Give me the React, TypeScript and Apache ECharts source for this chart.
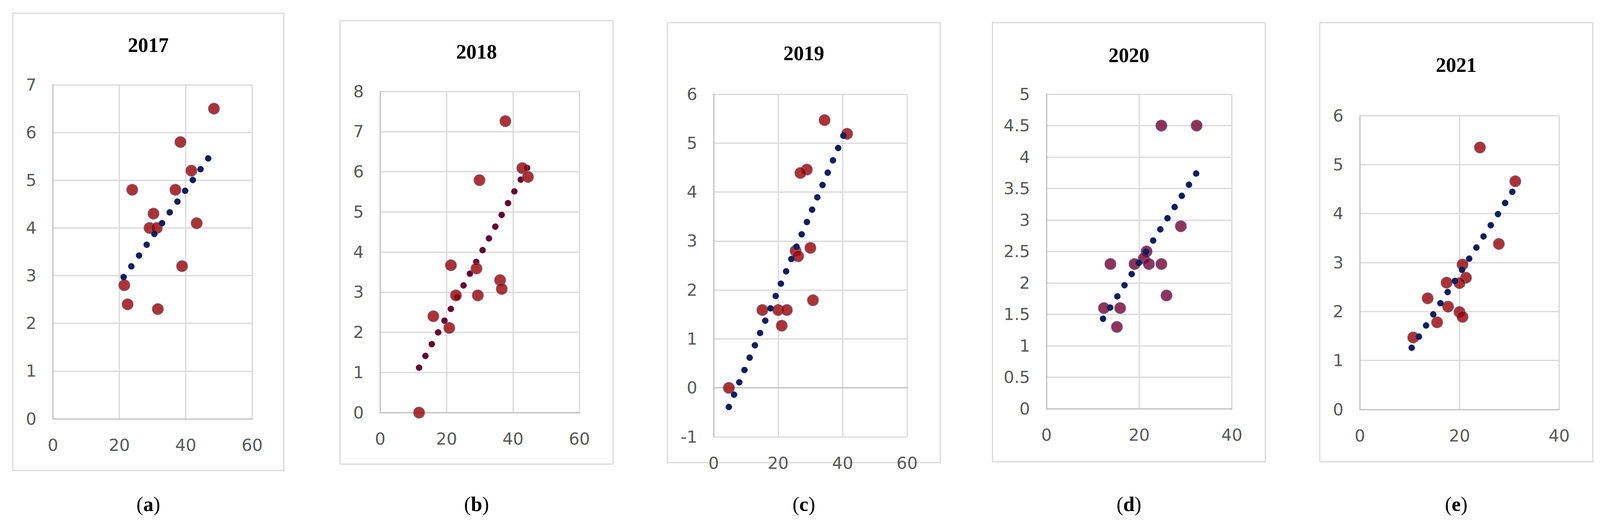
import React, { useEffect, useRef } from "react";
import * as echarts from "echarts";

// ---- data ----
const years = ["2017", "2018", "2019", "2020", "2021"];
const captionLetters = ["a", "b", "c", "d", "e"];

const obs2017 = [
  [48.5, 6.5], [38.4, 5.8], [41.7, 5.2], [23.9, 4.8], [36.9, 4.8], [30.3, 4.3], [29.1, 4.0],
  [31.3, 4.0], [43.3, 4.1], [38.9, 3.2], [21.5, 2.8], [22.5, 2.4], [31.6, 2.3],
];
const trend2017 = [[21.3, 2.97], [46.9, 5.47]];

const obs2018 = [
  [37.7, 7.26], [42.8, 6.09], [44.5, 5.87], [29.9, 5.79], [21.3, 3.67], [29.0, 3.59], [36.1, 3.3],
  [36.6, 3.08], [22.8, 2.92], [29.4, 2.92], [16.0, 2.4], [20.8, 2.11], [11.7, 0.0],
];
const trend2018 = [[11.7, 1.12], [44.4, 6.12]];

const obs2019 = [
  [34.4, 5.47], [41.4, 5.19], [28.9, 4.46], [26.9, 4.39], [25.4, 2.8], [26.2, 2.69], [30.0, 2.86],
  [30.8, 1.79], [15.1, 1.59], [20.0, 1.59], [22.7, 1.59], [21.1, 1.27], [4.7, 0.0],
];
const trend2019 = [[4.7, -0.39], [40.4, 5.18]];

const obs2020 = [
  [24.8, 4.5], [32.4, 4.5], [29.0, 2.9], [21.6, 2.5], [21.0, 2.39], [13.8, 2.3], [19.0, 2.3],
  [22.1, 2.3], [24.8, 2.3], [25.9, 1.8], [12.4, 1.6], [15.9, 1.6], [15.2, 1.3],
];
const trend2020 = [[12.2, 1.43], [32.4, 3.75]];

const obs2021 = [
  [24.1, 5.35], [31.2, 4.66], [27.9, 3.38], [20.6, 2.96], [21.3, 2.69], [20.0, 2.58], [17.4, 2.59],
  [13.6, 2.27], [17.7, 2.1], [20.0, 1.99], [20.6, 1.89], [15.5, 1.78], [10.7, 1.47],
];
const trend2021 = [[10.4, 1.26], [30.7, 4.46]];

// number of dots drawn along each dotted trend line
const trendDotCounts = [12, 18, 23, 14, 15];

const observed = [obs2017, obs2018, obs2019, obs2020, obs2021];
const trends = [trend2017, trend2018, trend2019, trend2020, trend2021];

const xMaxes = [60, 60, 60, 40, 40];
const xStep = 20;
const yMins = [0, 0, -1, 0, 0];
const yMaxes = [7, 8, 6, 5, 6];
const ySteps = [1, 1, 1, 0.5, 1];

// ---- layout & style (in reference pixels, 4385 x 1336) ----
const REF_W = 4385;
const REF_H = 1336;
const layout = [
  { box: [35, 34, 743, 1170], plot: [145, 217, 546, 855], titleY: 115 },
  { box: [932, 53, 748, 1135], plot: [1042, 234, 546, 822], titleY: 132 },
  { box: [1829, 58, 748, 1126], plot: [1956, 241, 530, 877], titleY: 136 },
  { box: [2720, 58, 748, 1124], plot: [2868, 241, 508, 805], titleY: 141 },
  { box: [3617, 58, 748, 1124], plot: [3727, 296, 546, 752], titleY: 166 },
];
const captionY = 1290;
const markerColors = ["#990000", "#990000", "#990000", "#74002F", "#990000"];
const trendColors = ["#0B1F5E", "#640034", "#0B1F5E", "#0B1F5E", "#0B1F5E"];
const trendZ = [5, 1, 5, 5, 5];

export default function App() {
  const ref = useRef<HTMLDivElement>(null);

  useEffect(() => {
    const el = ref.current;
    if (!el) return;
    const W = el.clientWidth || REF_W;
    const H = el.clientHeight || REF_H;
    const sx = W / REF_W;
    const sy = H / REF_H;
    const fs = (sx + sy) / 2;
    const X = (v: number) => v * sx;
    const Y = (v: number) => v * sy;

    const chart = echarts.init(el, undefined, { renderer: "svg", width: W, height: H });

    const tickFont = { fontSize: 44 * fs, fontFamily: "DejaVu Sans", color: "#595959" };

    const grid = layout.map((l) => ({
      left: X(l.plot[0]),
      top: Y(l.plot[1]),
      width: X(l.plot[2]),
      height: Y(l.plot[3]),
      containLabel: false,
    }));

    const xAxis = layout.map((_, i) => ({
      gridIndex: i,
      type: "value",
      min: 0,
      max: xMaxes[i],
      interval: xStep,
      axisLine: { show: true, onZero: true, lineStyle: { color: "#BFBFBF", width: 3 } },
      axisTick: { show: false },
      splitLine: { show: true, lineStyle: { color: "#D9D9D9", width: 3 } },
      axisLabel: { margin: 46 * sy, ...tickFont },
    }));

    const yAxis = layout.map((_, i) => ({
      gridIndex: i,
      type: "value",
      min: yMins[i],
      max: yMaxes[i],
      interval: ySteps[i],
      axisLine: { show: true, onZero: false, lineStyle: { color: "#BFBFBF", width: 3 } },
      axisTick: { show: false },
      splitLine: { show: true, lineStyle: { color: "#D9D9D9", width: 3 } },
      axisLabel: { margin: 45 * sx, ...tickFont },
    }));

    const series: any[] = [];
    layout.forEach((l, i) => {
      const t = trends[i];
      const pw = X(l.plot[2]);
      const ph = Y(l.plot[3]);
      const dxPx = ((t[1][0] - t[0][0]) / xMaxes[i]) * pw;
      const dyPx = ((t[1][1] - t[0][1]) / (yMaxes[i] - yMins[i])) * ph;
      const gap = (Math.sqrt(dxPx * dxPx + dyPx * dyPx) / (trendDotCounts[i] - 1)) * 0.995;

      series.push({
        type: "scatter",
        name: years[i] + " observed",
        xAxisIndex: i,
        yAxisIndex: i,
        data: observed[i],
        symbol: "circle",
        symbolSize: 30 * fs,
        itemStyle: { color: markerColors[i], borderColor: "#5A7EC2", borderWidth: 1.5 },
        z: 3,
      });
      series.push({
        type: "line",
        name: years[i] + " trend",
        xAxisIndex: i,
        yAxisIndex: i,
        data: t,
        symbol: "none",
        lineStyle: { color: trendColors[i], width: 17 * fs, type: [0.01, gap - 0.01], cap: "round" },
        z: trendZ[i],
      });
    });

    const graphic: any[] = [];
    layout.forEach((l, i) => {
      const cx = X(l.box[0] + l.box[2] / 2);
      graphic.push({
        type: "rect",
        shape: { x: X(l.box[0]), y: Y(l.box[1]), width: X(l.box[2]), height: Y(l.box[3]) },
        style: { fill: "none", stroke: "#D9D9D9", lineWidth: 3 },
        z: -10,
      });
      graphic.push({
        type: "text",
        x: cx,
        y: Y(l.titleY),
        style: {
          text: years[i],
          fontSize: 54 * fs,
          fontWeight: "bold",
          fontFamily: "Liberation Serif",
          fill: "#000000",
          align: "center",
          verticalAlign: "middle",
          textAlign: "center",
          textVerticalAlign: "middle",
        },
      });
      graphic.push({
        type: "text",
        x: cx,
        y: Y(captionY),
        style: {
          text: "{p|(}{b|" + captionLetters[i] + "}{p|)}",
          fill: "#000000",
          align: "center",
          verticalAlign: "middle",
          textAlign: "center",
          textVerticalAlign: "middle",
          rich: {
            p: { fontSize: 54 * fs, fontFamily: "Liberation Serif", fontWeight: "normal", fill: "#000" },
            b: { fontSize: 54 * fs, fontFamily: "Liberation Serif", fontWeight: "bold", fill: "#000" },
          },
        },
      });
    });

    chart.setOption({
      animation: false,
      backgroundColor: "#ffffff",
      grid,
      xAxis,
      yAxis,
      series,
      graphic,
    });

    return () => chart.dispose();
  }, []);

  return (
    <div
      ref={ref}
      style={{
        position: "fixed",
        left: 0,
        top: 0,
        width: "100vw",
        height: "100vh",
        overflow: "hidden",
        background: "#fff",
      }}
    />
  );
}
